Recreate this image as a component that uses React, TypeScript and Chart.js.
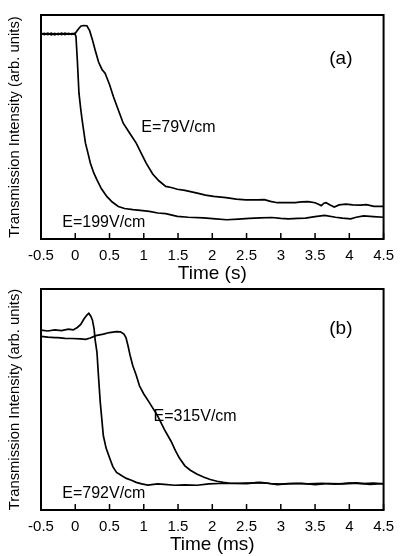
import React, { useEffect, useRef } from "react";
import { Chart, registerables } from "chart.js";

Chart.register(...registerables);

const FONT = "'Liberation Sans', Arial, Helvetica, sans-serif";

// ---------- shared axis ----------
const xTickLabels = ["-0.5", "0", "0.5", "1", "1.5", "2", "2.5", "3", "3.5", "4", "4.5"];

// ---------- panel (a): time in s ----------
const tA79 = [-0.5, -0.45, -0.4, -0.35, -0.3, -0.25, -0.2, -0.15, -0.1, -0.05, 0.0, 0.04, 0.08, 0.12, 0.17, 0.21, 0.25, 0.29, 0.34, 0.39, 0.435, 0.5, 0.556, 0.63, 0.7, 0.8, 0.89, 0.96, 1.035, 1.13, 1.22, 1.32, 1.4, 1.49, 1.6, 1.78, 1.9, 2.02, 2.2, 2.35, 2.49, 2.65, 2.76, 2.85, 2.95, 3.1, 3.21, 3.3, 3.4, 3.5, 3.55, 3.59, 3.63, 3.66, 3.72, 3.78, 3.85, 3.95, 4.05, 4.16, 4.25, 4.36, 4.5];
const vA79 = [0.915, 0.918, 0.913, 0.919, 0.912, 0.918, 0.913, 0.919, 0.914, 0.917, 0.918, 0.935, 0.95, 0.953, 0.952, 0.93, 0.89, 0.844, 0.79, 0.757, 0.74, 0.69, 0.636, 0.575, 0.517, 0.47, 0.428, 0.385, 0.339, 0.29, 0.26, 0.235, 0.23, 0.222, 0.217, 0.205, 0.196, 0.19, 0.185, 0.178, 0.175, 0.175, 0.176, 0.168, 0.162, 0.163, 0.162, 0.166, 0.167, 0.162, 0.155, 0.149, 0.16, 0.162, 0.152, 0.143, 0.152, 0.156, 0.152, 0.151, 0.153, 0.146, 0.146];

const tA199 = [-0.5, -0.45, -0.4, -0.35, -0.3, -0.25, -0.2, -0.15, -0.1, -0.05, -0.01, 0.01, 0.03, 0.054, 0.08, 0.1, 0.149, 0.18, 0.22, 0.27, 0.317, 0.38, 0.46, 0.54, 0.628, 0.72, 0.843, 0.95, 1.08, 1.206, 1.32, 1.49, 1.65, 1.87, 2.05, 2.21, 2.38, 2.54, 2.7, 2.87, 3.0, 3.11, 3.25, 3.36, 3.5, 3.64, 3.8, 3.9, 4.02, 4.1, 4.21, 4.35, 4.5];
const vA199 = [0.918, 0.913, 0.919, 0.912, 0.918, 0.913, 0.919, 0.913, 0.918, 0.914, 0.917, 0.905, 0.8, 0.651, 0.58, 0.532, 0.428, 0.39, 0.339, 0.295, 0.264, 0.225, 0.19, 0.165, 0.145, 0.136, 0.131, 0.128, 0.123, 0.116, 0.113, 0.101, 0.097, 0.094, 0.09, 0.086, 0.089, 0.092, 0.094, 0.096, 0.092, 0.09, 0.092, 0.093, 0.1, 0.105, 0.097, 0.093, 0.09, 0.097, 0.103, 0.1, 0.097];

// ---------- panel (b): time in ms ----------
const tB315 = [-0.5, -0.4, -0.3, -0.256, -0.15, -0.05, 0.077, 0.15, 0.22, 0.3, 0.41, 0.5, 0.6, 0.66, 0.71, 0.74, 0.77, 0.8, 0.84, 0.89, 0.937, 1.0, 1.08, 1.2, 1.3, 1.4, 1.46, 1.52, 1.6, 1.68, 1.78, 1.88, 1.97, 2.07, 2.16, 2.26, 2.4, 2.6, 2.7, 2.85, 3.0, 3.2, 3.4, 3.6, 3.8, 4.0, 4.2, 4.35, 4.5];
const vB315 = [0.786, 0.782, 0.78, 0.78, 0.777, 0.776, 0.774, 0.772, 0.778, 0.789, 0.796, 0.803, 0.807, 0.806, 0.796, 0.78, 0.743, 0.7, 0.653, 0.61, 0.562, 0.525, 0.487, 0.427, 0.365, 0.31, 0.27, 0.235, 0.2, 0.18, 0.162, 0.148, 0.138, 0.13, 0.125, 0.121, 0.121, 0.123, 0.125, 0.12, 0.117, 0.12, 0.118, 0.121, 0.117, 0.122, 0.119, 0.122, 0.118];

const tB792 = [-0.5, -0.4, -0.3, -0.2, -0.1, -0.03, 0.03, 0.08, 0.126, 0.17, 0.198, 0.225, 0.25, 0.275, 0.29, 0.317, 0.34, 0.365, 0.41, 0.45, 0.507, 0.55, 0.603, 0.68, 0.746, 0.82, 0.89, 0.97, 1.06, 1.2, 1.3, 1.45, 1.6, 1.78, 1.95, 2.1, 2.3, 2.5, 2.65, 2.8, 2.95, 3.1, 3.3, 3.5, 3.7, 3.9, 4.1, 4.3, 4.5];
const vB792 = [0.814, 0.81, 0.815, 0.812, 0.818, 0.815, 0.826, 0.84, 0.864, 0.882, 0.89, 0.878, 0.86, 0.82, 0.77, 0.713, 0.6, 0.487, 0.336, 0.28, 0.231, 0.195, 0.17, 0.155, 0.143, 0.135, 0.125, 0.118, 0.113, 0.118, 0.116, 0.112, 0.114, 0.112, 0.118, 0.12, 0.12, 0.119, 0.124, 0.121, 0.115, 0.119, 0.121, 0.115, 0.12, 0.118, 0.123, 0.116, 0.12];

// ---------- in-plot labels (data coordinates) ----------
const labelsA = [
  { text: "(a)", x: 3.877, y: 0.805, size: 19 },
  { text: "E=79V/cm", x: 1.506, y: 0.496, size: 16 },
  { text: "E=199V/cm", x: 0.417, y: 0.073, size: 16 },
];
const labelsB = [
  { text: "(b)", x: 3.877, y: 0.82, size: 19 },
  { text: "E=315V/cm", x: 1.749, y: 0.422, size: 16 },
  { text: "E=792V/cm", x: 0.417, y: 0.074, size: 16 },
];

type Lbl = { text: string; x: number; y: number; size: number };

function toXY(t: number[], v: number[]) {
  return t.map((x, i) => ({ x, y: v[i] }));
}

function framePlugin(labels: Lbl[]) {
  return {
    id: "frame",
    afterDraw(chart: any) {
      const { ctx, chartArea, scales } = chart;
      const { left, right, top, bottom } = chartArea;
      const xs = scales.x;
      const ys = scales.y;
      ctx.save();
      ctx.strokeStyle = "#000";
      ctx.lineWidth = 2;
      ctx.strokeRect(left, top, right - left, bottom - top);
      ctx.lineWidth = 1.5;
      xs.ticks.forEach((tk: any) => {
        const px = xs.getPixelForValue(tk.value);
        ctx.beginPath();
        ctx.moveTo(px, bottom);
        ctx.lineTo(px, bottom - 6);
        ctx.stroke();
      });
      ctx.fillStyle = "#000";
      ctx.textAlign = "center";
      ctx.textBaseline = "middle";
      labels.forEach((l) => {
        ctx.font = `${l.size}px ${FONT}`;
        ctx.fillText(l.text, xs.getPixelForValue(l.x), ys.getPixelForValue(l.y));
      });
      ctx.restore();
    },
  };
}

type PanelProps = {
  top: number;
  height: number;
  padTop: number;
  xAxisHeight: number;
  titlePadBottom: number;
  xTitle: string;
  series: { t: number[]; v: number[] }[];
  labels: Lbl[];
};

function Panel(p: PanelProps) {
  const ref = useRef<HTMLCanvasElement | null>(null);
  useEffect(() => {
    if (!ref.current) return;
    const chart = new Chart(ref.current, {
      type: "line",
      data: {
        datasets: p.series.map((s) => ({
          data: toXY(s.t, s.v),
          borderColor: "#000",
          borderWidth: 1.7,
          pointRadius: 0,
          tension: 0,
          fill: false,
        })),
      },
      options: {
        responsive: false,
        animation: false,
        layout: { padding: { left: 0, right: 12, top: p.padTop, bottom: 0 } },
        plugins: { legend: { display: false }, tooltip: { enabled: false } },
        scales: {
          x: {
            type: "linear",
            min: -0.5,
            max: 4.5,
            ticks: {
              stepSize: 0.5,
              autoSkip: false,
              maxRotation: 0,
              padding: 8,
              color: "#000",
              font: { family: FONT, size: 15 },
              callback: (_v: any, i: number) => xTickLabels[i],
            },
            grid: { display: false, drawTicks: false },
            border: { display: false },
            title: {
              display: true,
              text: p.xTitle,
              color: "#000",
              font: { family: FONT, size: 19 },
              padding: { top: 0, bottom: p.titlePadBottom },
            },
            afterFit: (s: any) => {
              s.height = p.xAxisHeight;
            },
          },
          y: {
            min: 0,
            max: 1,
            position: "left",
            ticks: { display: false },
            grid: { display: false, drawTicks: false },
            border: { display: false },
            title: {
              display: true,
              text: "Transmission Intensity (arb. units)",
              color: "#000",
              font: { family: FONT, size: 14.8 },
              padding: { top: 6, bottom: 0 },
            },
            afterFit: (s: any) => {
              s.width = 41;
            },
          },
        },
      } as any,
      plugins: [framePlugin(p.labels)],
    });
    return () => chart.destroy();
  }, []);
  return (
    <canvas
      ref={ref}
      width={402}
      height={p.height}
      style={{ position: "absolute", left: 0, top: p.top, width: 402, height: p.height, display: "block" }}
    />
  );
}

export default function App() {
  return (
    <div style={{ position: "absolute", left: 0, top: 0, width: 402, height: 556, background: "#fff" }}>
      <Panel
        top={0}
        height={290}
        padTop={15}
        xAxisHeight={51}
        titlePadBottom={5}
        xTitle="Time (s)"
        series={[
          { t: tA79, v: vA79 },
          { t: tA199, v: vA199 },
        ]}
        labels={labelsA}
      />
      <Panel
        top={280}
        height={276}
        padTop={9}
        xAxisHeight={46}
        titlePadBottom={0}
        xTitle="Time (ms)"
        series={[
          { t: tB315, v: vB315 },
          { t: tB792, v: vB792 },
        ]}
        labels={labelsB}
      />
    </div>
  );
}
